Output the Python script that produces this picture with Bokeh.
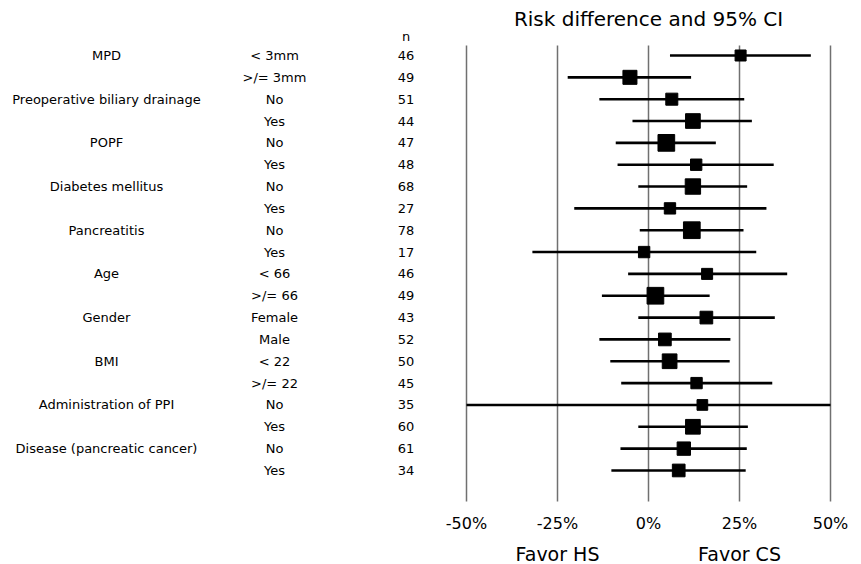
from bokeh.plotting import figure
from bokeh.models import Range1d, ColumnDataSource
from bokeh.core.properties import value
from bokeh.embed import file_html
from bokeh.resources import INLINE

# ---------------- data ----------------
categories = ["MPD", "Preoperative biliary drainage", "POPF", "Diabetes mellitus",
              "Pancreatitis", "Age", "Gender", "BMI", "Administration of PPI",
              "Disease (pancreatic cancer)"]
subgroups = ["< 3mm", ">/= 3mm", "No", "Yes", "No", "Yes", "No", "Yes", "No", "Yes",
             "< 66", ">/= 66", "Female", "Male", "< 22", ">/= 22", "No", "Yes", "No", "Yes"]
n_values = [46, 49, 51, 44, 47, 48, 68, 27, 78, 17, 46, 49, 43, 52, 50, 45, 35, 60, 61, 34]
risk_diff = [25.3, -5.1, 6.4, 12.2, 4.9, 13.1, 12.2, 5.9, 11.9, -1.2,
             16.1, 1.9, 15.9, 4.5, 5.8, 13.2, 14.8, 12.2, 9.7, 8.3]
ci_low = [5.9, -22.2, -13.5, -4.4, -9.0, -8.5, -2.8, -20.4, -2.4, -31.9,
          -5.6, -12.8, -2.8, -13.5, -10.5, -7.5, -50.0, -2.8, -7.7, -10.2]
ci_high = [44.6, 11.7, 26.3, 28.4, 18.5, 34.4, 27.1, 32.4, 26.1, 29.6,
           38.1, 16.8, 34.7, 22.5, 22.3, 34.0, 50.0, 27.3, 27.0, 26.7]
weight = [66, 84, 72, 88, 100, 68, 92, 68, 100, 68,
          66, 100, 76, 76, 88, 68, 64, 88, 80, 76]
tick_values = [-50, -25, 0, 25, 50]
tick_labels = ["-50%", "-25%", "0%", "25%", "50%"]
favor_labels = ["Favor HS", "Favor CS"]
favor_at = [-25, 25]
title_text = "Risk difference and 95% CI"
n_header = "n"

# ---------------- layout ----------------
W, H = 861, 564
X0 = 648.0          # screen x of 0%
PXU = 3.64          # px per percent
Y0 = 55.0           # screen y of first row
PYU = 21.84         # px per row
MAXSIZE = 16.7

def sx(px):   # screen px -> data x
    return (px - X0) / PXU

def sy(py):   # screen px -> data y (row units)
    return (py - Y0) / PYU

FONT = value("DejaVu Sans")

p = figure(width=W, height=H, output_backend="svg", toolbar_location=None,
           x_range=Range1d(sx(0), sx(W)), y_range=Range1d(sy(H), sy(0)),
           min_border=0, outline_line_color=None)
p.axis.visible = False
p.grid.visible = False
p.background_fill_color = "white"
p.border_fill_color = "white"

rows = list(range(len(subgroups)))
src = ColumnDataSource(dict(y=rows, rd=risk_diff, lo=ci_low, hi=ci_high,
                            size=[MAXSIZE * w / 100 for w in weight],
                            sub=subgroups, n=[str(v) for v in n_values]))

# vertical reference lines
vsrc = ColumnDataSource(dict(x=tick_values, y0=[sy(45)] * len(tick_values),
                             y1=[sy(501)] * len(tick_values), lab=tick_labels,
                             ly=[sy(523)] * len(tick_values)))
p.segment(x0="x", x1="x", y0="y0", y1="y1", source=vsrc, line_color="#707070", line_width=1.5)

# CI lines and squares
p.segment(x0="lo", x1="hi", y0="y", y1="y", source=src, line_color="black", line_width=2.6)
p.scatter(x="rd", y="y", size="size", marker="square", source=src,
          fill_color="black", line_color="black")

# tick labels
p.text(x="x", y="ly", text="lab", source=vsrc, text_font=FONT, text_font_size="16px",
       text_align="center", text_baseline="middle", text_color="black")

# table columns
cat_rows = rows[::2]
p.text(x=[sx(106)] * len(categories), y=cat_rows, text=categories, text_font=FONT,
       text_font_size="13px", text_align="center", text_baseline="middle", text_color="black")
p.text(x=sx(274), y="y", text="sub", source=src, text_font=FONT, text_font_size="13px",
       text_align="center", text_baseline="middle", text_color="black")
p.text(x=sx(405.5), y="y", text="n", source=src, text_font=FONT, text_font_size="13px",
       text_align="center", text_baseline="middle", text_color="black")
p.text(x=[sx(405.5)], y=[sy(35.7)], text=[n_header], text_font=FONT, text_font_size="13px",
       text_align="center", text_baseline="middle", text_color="black")

# title
p.text(x=[0], y=[sy(18)], text=[title_text], text_font=FONT, text_font_size="20px",
       text_align="center", text_baseline="middle", text_color="black")

# favor labels
p.text(x=favor_at, y=[sy(553)] * 2, text=favor_labels, text_font=FONT, text_font_size="19px",
       text_align="center", text_baseline="middle", text_color="black")

open("out.html", "w").write(file_html(p, INLINE))
